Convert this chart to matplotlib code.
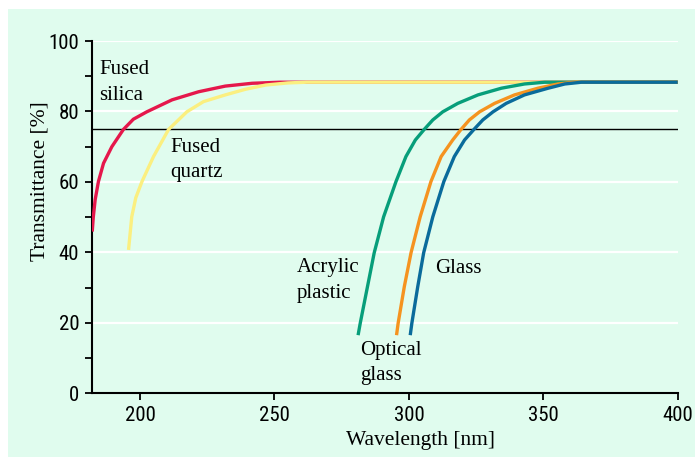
import matplotlib
matplotlib.use("Agg")
import matplotlib.pyplot as plt
from matplotlib.patches import Rectangle

# ---- data ----
silica_x = [182.2, 182.6, 183.3, 184.5, 186.4, 189.5, 193.8, 197.5, 202.5, 211.9, 221.8, 231.7,
            241.7, 252, 270, 300, 350, 400]
silica_y = [45.9, 50.1, 55.0, 60.1, 65.3, 70.0, 74.9, 77.8, 79.9, 83.3, 85.6, 87.2,
            88.0, 88.3, 88.3, 88.3, 88.3, 88.3]

quartz_x = [195.7, 196.9, 198.4, 200.7, 205.0, 210.6, 217.4, 223.6, 231.7, 239.2, 246.7, 255, 262, 300, 400]
quartz_y = [40.7, 50.1, 55.5, 60.1, 67.2, 74.9, 79.9, 82.8, 84.7, 86.3, 87.5, 88.1, 88.3, 88.3, 88.3]

acrylic_x = [281.1, 281.9, 284.6, 287.1, 290.6, 295.2, 298.9, 302.4, 305.7, 308.9, 312.6, 318.2,
             325.7, 334.4, 343.0, 350.5, 400]
acrylic_y = [16.5, 19.9, 30.3, 39.9, 50.1, 60.1, 67.2, 71.9, 74.9, 77.6, 79.9, 82.3,
             84.7, 86.6, 87.8, 88.3, 88.3]

optical_x = [295.4, 296.0, 298.3, 300.8, 304.2, 308.2, 312.0, 316.3, 319.4, 322.5, 326.3, 331.9,
             339.3, 348.0, 355.5, 361.7, 400]
optical_y = [16.5, 19.9, 30.3, 39.9, 50.1, 60.1, 67.2, 71.9, 74.9, 77.6, 79.9, 82.3,
             84.7, 86.6, 87.8, 88.3, 88.3]

glass_x = [300.5, 301.1, 303.3, 305.5, 308.9, 313.0, 316.9, 320.7, 324.2, 327.5, 331.3, 336.2,
           343.0, 351.8, 358.0, 364.2, 400]
glass_y = [16.5, 19.9, 30.3, 39.9, 50.1, 60.1, 67.2, 71.9, 74.9, 77.6, 79.9, 82.3,
           84.7, 86.6, 87.8, 88.3, 88.3]

threshold = 75
x_ticks = [200, 250, 300, 350, 400]
y_ticks = [0, 20, 40, 60, 80, 100]
y_minor = [10, 30, 50, 70, 90]
grid_y = [20, 40, 60, 80, 100]

BG = "#e0fcee"
serif = ["Liberation Serif", "DejaVu Serif"]
narrow = ["Roboto Condensed", "Archivo Narrow", "Asap Condensed", "DejaVu Sans"]

fig = plt.figure(figsize=(6.95, 4.57), dpi=100)
fig.patch.set_facecolor("white")
fig.patches.append(Rectangle((8 / 695, 0), 1, 1 - 9 / 457, transform=fig.transFigure,
                             facecolor=BG, edgecolor="none", zorder=-10))

ax = fig.add_axes([91.7 / 695, 1 - 393.3 / 457, 586 / 695, 352.3 / 457])
ax.set_facecolor(BG)
ax.set_xlim(182, 400)
ax.set_ylim(0, 100)

for gy in grid_y:
    ax.plot([182, 400], [gy, gy], color="white", lw=1.6, zorder=1, solid_capstyle="butt")
ax.plot([182, 400], [threshold, threshold], color="black", lw=1.0, zorder=2)

lw = 2.4
kw = dict(lw=lw, solid_joinstyle="round", solid_capstyle="butt")
ax.plot(silica_x, silica_y, color="#e5174b", zorder=3, **kw)
ax.plot(quartz_x, quartz_y, color="#fbef80", zorder=3, **kw)
ax.plot(acrylic_x, acrylic_y, color="#079e7a", zorder=4, **kw)
ax.plot(optical_x, optical_y, color="#f5931f", zorder=5, **kw)
ax.plot(glass_x, glass_y, color="#0a6b9b", zorder=6, **kw)

for s in ["top", "right"]:
    ax.spines[s].set_visible(False)
for s in ["left", "bottom"]:
    ax.spines[s].set_linewidth(1.5)

ax.set_xticks(x_ticks)
ax.set_yticks(y_ticks)
ax.set_yticks(y_minor, minor=True)
ax.tick_params(axis="both", which="both", direction="out", length=5, width=1.3,
               labelsize=15, pad=4)
for lab in ax.get_xticklabels() + ax.get_yticklabels():
    lab.set_family(narrow)

fig.text(421 / 695, 1 - 445 / 457, "Wavelength [nm]", family=serif, fontsize=15.5,
         ha="center", va="baseline")
fig.text(40 / 695, 1 - 181 / 457, "Transmittance [%]", family=serif, fontsize=15.5,
         ha="center", va="center", rotation=90)

labels = [
    ("Fused", 184.7, 90.6), ("silica", 184.7, 83.3),
    ("Fused", 211.2, 68.6), ("quartz", 211.2, 61.5),
    ("Acrylic", 258.2, 34.5), ("plastic", 258.2, 27.0),
    ("Glass", 309.7, 34.1),
    ("Optical", 281.7, 10.9), ("glass", 281.7, 3.8),
]
for t, x, y in labels:
    ax.text(x, y, t, family=serif, fontsize=15, ha="left", va="baseline", zorder=7)

fig.savefig("out.png", dpi=100, facecolor=fig.get_facecolor())
